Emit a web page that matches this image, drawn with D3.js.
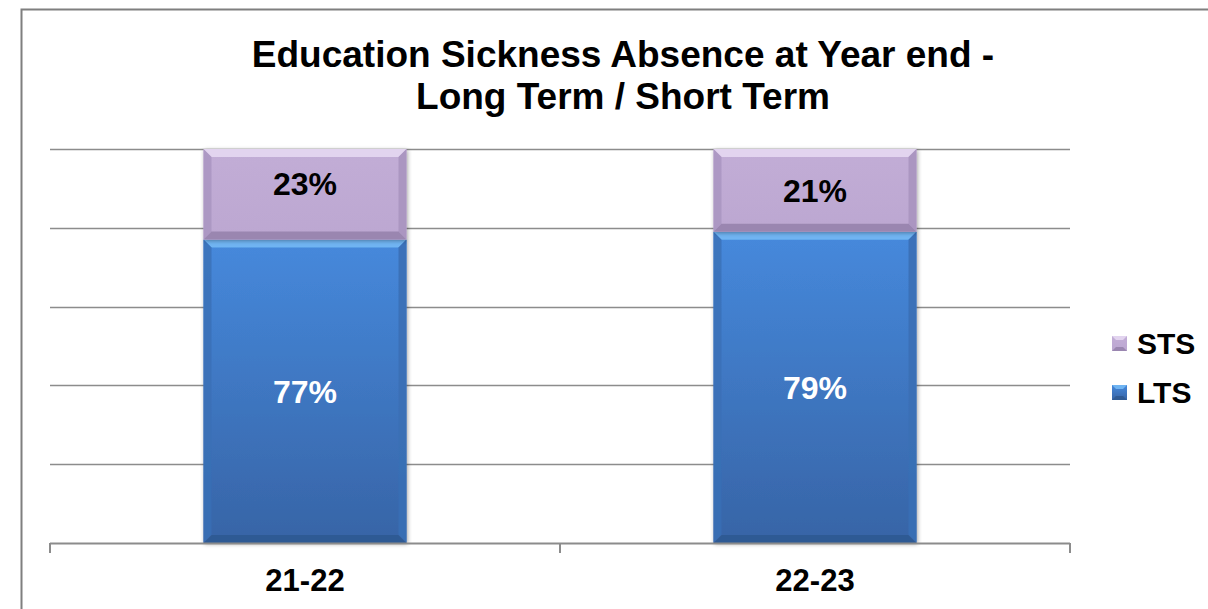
<!DOCTYPE html>
<html>
<head>
<meta charset="utf-8">
<script src="https://cdn.jsdelivr.net/npm/d3@7"></script>
<style>
  html, body { margin: 0; padding: 0; background: #fff; }
  svg { display: block; font-family: "Liberation Sans", Arial, sans-serif; }
</style>
</head>
<body>
<svg id="chart" width="1208" height="609"></svg>
<script>
// Year categories and share of sickness absence (percent)
const categories = ["21-22", "22-23"];
const ltsValues = [77, 79];
const stsValues = [23, 21];
const seriesNames = ["LTS", "STS"];
const yTicks = [0, 20, 40, 60, 80, 100];

const svg = d3.select("#chart");
const W = 1208, H = 609;

// outer frame
svg.append("path")
  .attr("d", `M21.5,${H} V9.5 H${W}`)
  .attr("fill", "none").attr("stroke", "#7f7f7f").attr("stroke-width", 2);

const plot = { left: 50, right: 1070, top: 149, bottom: 543 };

const x = d3.scaleBand().domain(categories).range([plot.left, plot.right]).paddingInner(0).paddingOuter(0);
const y = d3.scaleLinear().domain([0, 100]).range([plot.bottom, plot.top]);

// gridlines
svg.append("g").selectAll("line").data(yTicks.filter(t => t > 0)).join("line")
  .attr("x1", plot.left).attr("x2", plot.right)
  .attr("y1", d => Math.round(y(d)) + 0.5).attr("y2", d => Math.round(y(d)) + 0.5)
  .attr("stroke", "#8c8c8c").attr("stroke-width", 1.5);

// defs: gradients for the two series
const defs = svg.append("defs");
const gBlue = defs.append("linearGradient").attr("id", "gBlue").attr("x1", 0).attr("x2", 0).attr("y1", 0).attr("y2", 1);
gBlue.append("stop").attr("offset", "0%").attr("stop-color", "#4689dc");
gBlue.append("stop").attr("offset", "100%").attr("stop-color", "#3764a6");
const gPurple = defs.append("linearGradient").attr("id", "gPurple").attr("x1", 0).attr("x2", 0).attr("y1", 0).attr("y2", 1);
gPurple.append("stop").attr("offset", "0%").attr("stop-color", "#c2add6");
gPurple.append("stop").attr("offset", "100%").attr("stop-color", "#bca7d1");

const shadow = defs.append("filter").attr("id", "shadow").attr("x", "-10%").attr("y", "-10%").attr("width", "120%").attr("height", "120%");
shadow.append("feGaussianBlur").attr("in", "SourceAlpha").attr("stdDeviation", 2);
shadow.append("feOffset").attr("dx", 1).attr("dy", 1).attr("result", "ob");
shadow.append("feComponentTransfer").append("feFuncA").attr("type", "linear").attr("slope", 0.35);
const merge = shadow.append("feMerge");
merge.append("feMergeNode");
merge.append("feMergeNode").attr("in", "SourceGraphic");

const fills = { LTS: "url(#gBlue)", STS: "url(#gPurple)" };
const bevelTop = { LTS: "#6fb4f2", STS: "#e2d4ef" };
const bevelSide = { LTS: "#3a6fb5", STS: "#a893bf" };
const bevelBottom = { LTS: "#2f5a94", STS: "#9a86b0" };

const barW = 203;
const bev = 8;

// stack data
const rows = categories.map((c, i) => ({ cat: c, LTS: ltsValues[i], STS: stsValues[i] }));
const stacked = d3.stack().keys(seriesNames)(rows);

function drawBevelRect(g, x0, y0, w, h, key) {
  g.append("rect").attr("x", x0).attr("y", y0).attr("width", w).attr("height", h).attr("fill", fills[key]);
  const b = Math.min(bev, h / 2);
  // top
  g.append("path").attr("d", `M${x0},${y0} H${x0 + w} L${x0 + w - b},${y0 + b} H${x0 + b} Z`)
    .attr("fill", bevelTop[key]);
  // left
  g.append("path").attr("d", `M${x0},${y0} L${x0 + b},${y0 + b} V${y0 + h - b} L${x0},${y0 + h} Z`)
    .attr("fill", bevelSide[key]).attr("opacity", 0.8);
  // right
  g.append("path").attr("d", `M${x0 + w},${y0} L${x0 + w - b},${y0 + b} V${y0 + h - b} L${x0 + w},${y0 + h} Z`)
    .attr("fill", bevelSide[key]).attr("opacity", 0.9);
  // bottom
  g.append("path").attr("d", `M${x0},${y0 + h} L${x0 + b},${y0 + h - b} H${x0 + w - b} L${x0 + w},${y0 + h} Z`)
    .attr("fill", bevelBottom[key]);
}

const barsG = svg.append("g");
const labelsG = svg.append("g");
stacked.forEach(series => {
  const key = series.key;
  series.forEach((d, i) => {
    const cx = x(d.data.cat) + x.bandwidth() / 2;
    const x0 = cx - barW / 2;
    const y0 = y(d[1]);
    const h = y(d[0]) - y(d[1]);
    const g = barsG.append("g").attr("filter", "url(#shadow)");
    drawBevelRect(g, x0, y0, barW, h, key);
    // the first top label sits a little higher in its segment
    const nudge = (key === "STS" && i === 0) ? -11 : 0;
    labelsG.append("text")
      .attr("x", cx).attr("y", (y(d[0]) + y(d[1])) / 2 + 11.5 + nudge)
      .attr("text-anchor", "middle")
      .attr("font-size", 32).attr("font-weight", "bold")
      .attr("fill", key === "LTS" ? "#ffffff" : "#000000")
      .text((d[1] - d[0]) + "%");
  });
});

// x axis
svg.append("line").attr("x1", plot.left).attr("x2", plot.right)
  .attr("y1", plot.bottom + 0.5).attr("y2", plot.bottom + 0.5)
  .attr("stroke", "#8c8c8c").attr("stroke-width", 2);
const tickXs = categories.map(c => x(c)).concat([x(categories[categories.length - 1]) + x.bandwidth()]);
svg.append("g").selectAll("line").data(tickXs).join("line")
  .attr("x1", d => d).attr("x2", d => d)
  .attr("y1", plot.bottom).attr("y2", plot.bottom + 10)
  .attr("stroke", "#8c8c8c").attr("stroke-width", 2);
svg.append("g").selectAll("text").data(categories).join("text")
  .attr("x", d => x(d) + x.bandwidth() / 2).attr("y", 591)
  .attr("text-anchor", "middle").attr("font-size", 31).attr("font-weight", "bold")
  .text(d => d);

// title
const title = svg.append("text").attr("text-anchor", "middle").attr("font-size", 37).attr("font-weight", "bold");
title.append("tspan").attr("x", 623).attr("y", 67).text("Education Sickness Absence at Year end -");
title.append("tspan").attr("x", 623).attr("y", 109).text("Long Term / Short Term");

// legend
const legendItems = ["STS", "LTS"];
const lg = svg.append("g");
legendItems.forEach((k, i) => {
  const ly = 336 + i * 49;
  const g = lg.append("g");
  const s = 15, b = 4;
  g.append("rect").attr("x", 1112).attr("y", ly).attr("width", s).attr("height", s).attr("fill", fills[k]);
  g.append("path").attr("d", `M1112,${ly} H${1112 + s} L${1112 + s - b},${ly + b} H${1112 + b} Z`).attr("fill", bevelTop[k]);
  g.append("path").attr("d", `M1112,${ly + s} L${1112 + b},${ly + s - b} H${1112 + s - b} L${1112 + s},${ly + s} Z`).attr("fill", bevelBottom[k]);
  lg.append("text").attr("x", 1137).attr("y", ly + 18)
    .attr("font-size", 30).attr("font-weight", "bold").text(k);
});
</script>
</body>
</html>
